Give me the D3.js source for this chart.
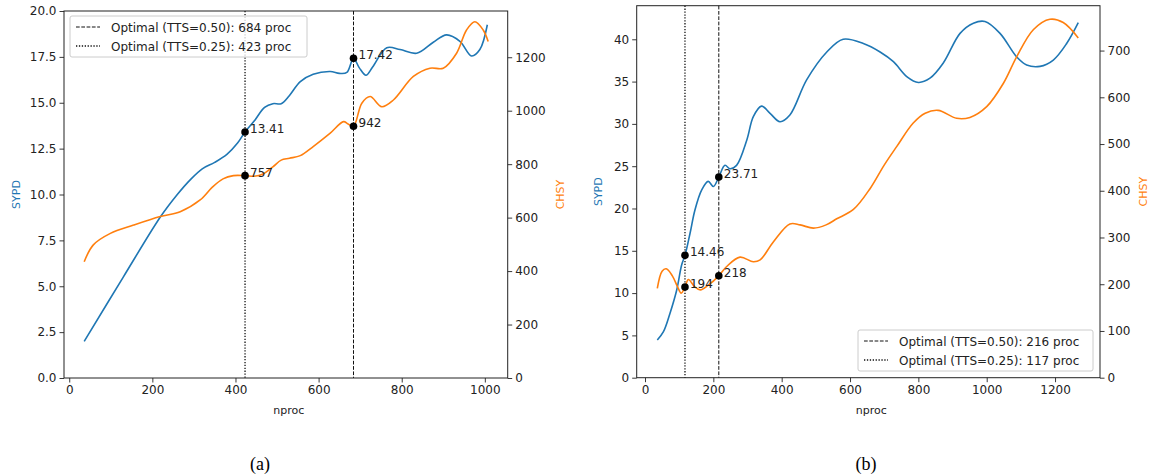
<!DOCTYPE html>
<html>
<head>
<meta charset="utf-8">
<script src="https://cdn.jsdelivr.net/npm/d3@7"></script>
<style>
  body { margin: 0; background: #fff; }
  svg { font-family: "DejaVu Sans", sans-serif; }
</style>
</head>
<body>
<svg id="chart" width="1149" height="475"></svg>
<script>
// (a) SYPD / CHSY vs nproc
const sypdA_n = [36, 130, 220, 260, 291, 320, 350, 380, 405, 423, 445, 470, 490, 510, 530, 556, 587, 628, 650, 668, 684, 698, 714, 730, 764, 796, 836, 876, 908, 940, 968, 988, 1006];
const sypdA_v = [2.0, 5.5, 8.8, 10.0, 10.8, 11.4, 11.75, 12.2, 12.8, 13.41, 14.0, 14.75, 14.95, 14.95, 15.4, 16.15, 16.55, 16.7, 16.6, 16.65, 17.42, 16.9, 16.5, 16.95, 18.0, 17.9, 17.7, 18.3, 18.7, 18.35, 17.55, 17.9, 19.25];
const chsyA_n = [36, 58, 99, 155, 219, 267, 315, 345, 370, 395, 423, 445, 465, 490, 510, 530, 556, 587, 628, 660, 671, 684, 704, 724, 752, 780, 828, 868, 900, 932, 956, 976, 996, 1008];
const chsyA_v = [435, 498, 541, 572, 604, 622, 666, 715, 745, 757, 757, 755, 762, 790, 815, 822, 832, 866, 916, 959, 950, 942, 1028, 1053, 1015, 1040, 1128, 1159, 1159, 1215, 1302, 1333, 1302, 1259];

// (b)
const sypdB_n = [36, 54, 73, 93, 107, 117, 132, 146, 166, 185, 200, 216, 234, 249, 268, 298, 317, 341, 366, 395, 424, 473, 532, 580, 639, 688, 727, 766, 800, 834, 873, 922, 961, 995, 1039, 1088, 1117, 1156, 1195, 1234, 1268];
const sypdB_v = [4.46, 5.44, 7.6, 10.4, 13.3, 14.46, 17.1, 19.8, 22.2, 23.2, 22.6, 23.71, 25.1, 24.7, 25.1, 28.1, 30.85, 32.1, 31.25, 30.26, 31.05, 35.2, 38.5, 40.0, 39.5, 38.5, 37.35, 35.6, 34.9, 35.4, 37.2, 40.7, 41.9, 42.1, 40.7, 37.9, 36.96, 36.8, 37.55, 39.5, 41.96];
const chsyB_n = [36, 50, 62, 80, 95, 106, 117, 127, 145, 162, 185, 216, 239, 278, 317, 337, 376, 424, 454, 493, 530, 561, 610, 659, 700, 737, 785, 820, 858, 912, 951, 1000, 1049, 1088, 1137, 1185, 1224, 1268];
const chsyB_v = [191, 228, 233, 218, 195, 181, 194, 210, 195, 188, 198, 218, 238, 258, 248, 252, 291, 329, 327, 320, 327, 340, 360, 405, 455, 495, 545, 566, 572, 555, 557, 580, 630, 687, 745, 767, 760, 727];

// optimal points
const optA_n = [684, 423];
const optA_sypd = [17.42, 13.41];
const optA_chsy = [942, 757];
const optB_n = [216, 117];
const optB_sypd = [23.71, 14.46];
const optB_chsy = [218, 194];
const ttsLabels = ["0.50", "0.25"];

const svg = d3.select("#chart");
const BLUE = "#1f77b4", ORANGE = "#ff7f0e", INK = "#222";

/** 1つのパネルを描画する */
function drawPanel(p) {
    const x = d3.scaleLinear().domain(p.xDomain).range([p.left, p.right]);
    const yL = d3.scaleLinear().domain(p.yLDomain).range([p.bottom, p.top]);
    const yR = d3.scaleLinear().domain(p.yRDomain).range([p.bottom, p.top]);
    const g = svg.append("g");

    function styleAxis(ax) {
        ax.select(".domain").remove();
        ax.selectAll(".tick line").attr("stroke", INK).attr("stroke-width", 0.9);
        ax.selectAll(".tick text").attr("fill", INK).style("font-size", "12px")
            .style("font-family", "DejaVu Sans");
    }

    // axes
    styleAxis(g.append("g").attr("transform", `translate(0,${p.bottom})`)
        .call(d3.axisBottom(x).tickValues(p.xTicks).tickSize(4.5).tickPadding(3).tickFormat(d3.format("d"))));
    styleAxis(g.append("g").attr("transform", `translate(${p.left},0)`)
        .call(d3.axisLeft(yL).tickValues(p.yLTicks).tickSize(4.5).tickPadding(3).tickFormat(p.yLFormat)));
    styleAxis(g.append("g").attr("transform", `translate(${p.right},0)`)
        .call(d3.axisRight(yR).tickValues(p.yRTicks).tickSize(4.5).tickPadding(3).tickFormat(d3.format("d"))));

    const line = (xs, vs, yS) => d3.line().curve(d3.curveCatmullRom.alpha(0.5))
        .x((d, i) => x(xs[i])).y(d => yS(d))(vs);

    g.append("path").attr("d", line(p.sypd_n, p.sypd_v, yL))
        .attr("fill", "none").attr("stroke", BLUE).attr("stroke-width", 1.6);
    g.append("path").attr("d", line(p.chsy_n, p.chsy_v, yR))
        .attr("fill", "none").attr("stroke", ORANGE).attr("stroke-width", 1.6);

    // optimal vertical lines: dashed for 0.50, dotted for 0.25
    const dashes = ["3.7,1.6", "1.3,1.6"];
    const widths = [1, 1.3];
    p.opt_n.forEach((n, i) => {
        g.append("line").attr("x1", x(n)).attr("x2", x(n))
            .attr("y1", p.top).attr("y2", p.bottom)
            .attr("stroke", "#111").attr("stroke-width", widths[i])
            .attr("stroke-dasharray", dashes[i]);
    });

    // markers and labels
    p.opt_n.forEach((n, i) => {
        [[yL(p.opt_sypd[i]), p.opt_sypd[i].toFixed(2)], [yR(p.opt_chsy[i]), String(p.opt_chsy[i])]].forEach(([yy, txt]) => {
            g.append("circle").attr("cx", x(n)).attr("cy", yy).attr("r", 3.8).attr("fill", "#000");
            g.append("text").attr("x", x(n) + 5).attr("y", yy + 1)
                .text(txt).attr("fill", INK).style("font-size", "12px");
        });
    });

    // frame
    g.append("rect").attr("x", p.left).attr("y", p.top)
        .attr("width", p.right - p.left).attr("height", p.bottom - p.top)
        .attr("fill", "none").attr("stroke", INK).attr("stroke-width", 1);

    // axis labels
    g.append("text").attr("x", (p.left + p.right) / 2 + 3).attr("y", p.bottom + 36)
        .attr("text-anchor", "middle").text("nproc").attr("fill", INK).style("font-size", "11px");
    g.append("text").attr("transform", `translate(${p.left - p.yLabOff},${(p.top + p.bottom) / 2})rotate(-90)`)
        .attr("text-anchor", "middle").text("SYPD").attr("fill", BLUE).style("font-size", "11px");
    g.append("text").attr("transform", `translate(${p.right + p.yRLabOff},${(p.top + p.bottom) / 2})rotate(-90)`)
        .attr("text-anchor", "middle").text("CHSY").attr("fill", ORANGE).style("font-size", "11px");

    // legend
    const lg = g.append("g").attr("transform", `translate(${p.legend[0]},${p.legend[1]})`);
    lg.append("rect").attr("width", p.legend[2]).attr("height", 41).attr("rx", 2)
        .attr("fill", "#fff").attr("fill-opacity", 0.8).attr("stroke", "#ccc").attr("stroke-width", 1);
    p.opt_n.forEach((n, i) => {
        const yy = 11 + i * 19;
        lg.append("line").attr("x1", 6).attr("x2", 30).attr("y1", yy).attr("y2", yy)
            .attr("stroke", "#111").attr("stroke-width", widths[i]).attr("stroke-dasharray", dashes[i]);
        lg.append("text").attr("x", 41).attr("y", yy + 4.5).attr("fill", INK).style("font-size", "12px")
            .text(`Optimal (TTS=${ttsLabels[i]}): ${n} proc`);
    });

    // caption
    svg.append("text").attr("x", p.caption[0]).attr("y", p.caption[1]).attr("text-anchor", "middle")
        .style("font-family", "Liberation Serif, serif").style("font-size", "18px").attr("fill", "#000")
        .text(p.caption[2]);
}

drawPanel({
    left: 64, right: 507.7, top: 11, bottom: 378,
    xDomain: [-12.6, 1055], yLDomain: [0, 20], yRDomain: [0, 1373],
    xTicks: [0, 200, 400, 600, 800, 1000],
    yLTicks: d3.range(0, 20.01, 2.5), yLFormat: d3.format(".1f"),
    yRTicks: [0, 200, 400, 600, 800, 1000, 1200],
    sypd_n: sypdA_n, sypd_v: sypdA_v, chsy_n: chsyA_n, chsy_v: chsyA_v,
    opt_n: optA_n, opt_sypd: optA_sypd, opt_chsy: optA_chsy,
    yLabOff: 44, yRLabOff: 56,
    legend: [70, 16, 237],
    caption: [260, 470, "(a)"]
});

drawPanel({
    left: 636.7, right: 1100, top: 5.7, bottom: 377.7,
    xDomain: [-24.3, 1331.6], yLDomain: [0, 43.97], yRDomain: [0, 796],
    xTicks: [0, 200, 400, 600, 800, 1000, 1200],
    yLTicks: d3.range(0, 41, 5), yLFormat: d3.format("d"),
    yRTicks: d3.range(0, 701, 100),
    sypd_n: sypdB_n, sypd_v: sypdB_v, chsy_n: chsyB_n, chsy_v: chsyB_v,
    opt_n: optB_n, opt_sypd: optB_sypd, opt_chsy: optB_chsy,
    yLabOff: 35, yRLabOff: 47,
    legend: [858, 330, 235],
    caption: [866, 470, "(b)"]
});
</script>
</body>
</html>
